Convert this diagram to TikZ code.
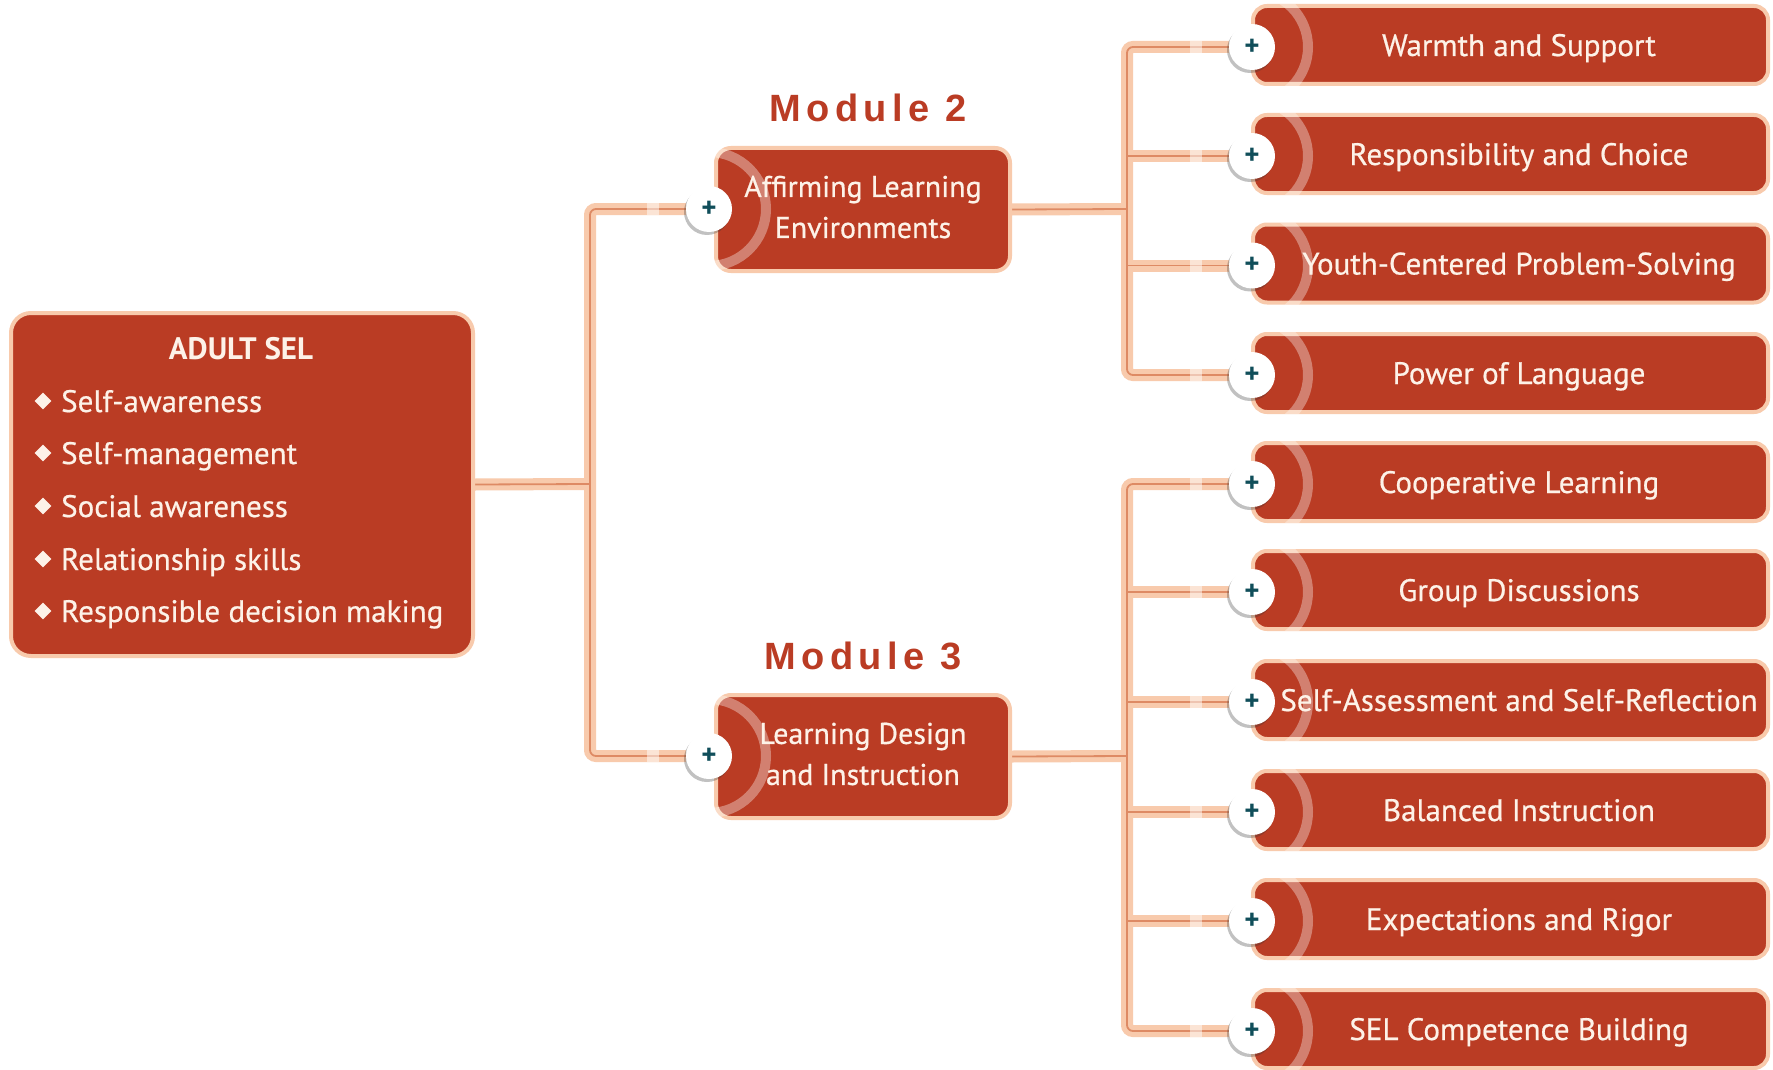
\documentclass[tikz,border=0pt]{standalone}
\usepackage{fontspec}
\setmainfont{PT Sans}
\newfontfamily\semib[FakeBold=0.6]{PT Sans}
\newfontfamily\modfont[LetterSpace=14]{Liberation Sans}
\usetikzlibrary{shapes.geometric,shadows,calc}
\definecolor{boxred}{RGB}{186,60,36}
\definecolor{peach}{RGB}{248,202,172}
\definecolor{peachdk}{RGB}{222,138,100}
\definecolor{cream}{RGB}{253,242,232}
\definecolor{teal}{RGB}{16,78,90}
\tikzset{
  boxbase/.style={draw=peach, line width=4, fill=boxred, inner sep=0},
  rbox/.style={boxbase, rounded corners=14, minimum width=515, minimum height=78},
  mbox/.style={boxbase, rounded corners=15, minimum width=294, minimum height=123},
  selbox/.style={boxbase, rounded corners=20, minimum width=462, minimum height=343},
  ring/.style={draw=white, draw opacity=0.35, line width=10},
  rtext/.style={text=cream, font=\semib\fontsize{31}{37}\selectfont, inner sep=0, anchor=base},
  mtext/.style={text=cream, font=\semib\fontsize{30}{41}\selectfont, align=center, inner sep=0},
  itemtext/.style={text=cream, font=\semib\fontsize{31}{37}\selectfont, anchor=base west, inner sep=0},
  bullet/.style={diamond, fill=cream, minimum size=17, inner sep=0},
  plusnode/.style={circle, fill=white, minimum size=46, inner sep=0, text=teal,
    font=\bfseries\fontsize{29}{29}\selectfont,
    drop shadow={shadow xshift=-2, shadow yshift=3, opacity=0.3, fill=black!80}},
  modlabel/.style={text=boxred, font=\modfont\bfseries\fontsize{38}{38}\selectfont, inner sep=0},
  band/.style={draw=peach, line width=12, rounded corners=6},
  core/.style={draw=peachdk, line width=1.8, rounded corners=6},
}
\newcommand\rightbox[3]{%
  \coordinate (c#1) at (1252,#2+2);
  \node[rbox] (r#1) at (1510.5,#2) {};
  \begin{scope}
    \clip[rounded corners=14] (r#1.south west) rectangle (r#1.north east);
    \draw[ring] (c#1) circle (56);
  \end{scope}
  \node[rtext] (t#1) at (1519,#2+11) {#3};
  \node[plusnode] (q#1) at (c#1) {+};
}
\newcommand\connpaths[1]{%
  \draw[#1] (sel.east) -- (ja);
  \draw[#1] (p2) -| (ja) |- (p3);
  \draw[#1] (m2.east) -- (jb);
  \draw[#1] (q1) -| (jb) |- (q4);
  \draw[#1] (q2) -- (jb |- q2);
  \draw[#1] (q3) -- (jb |- q3);
  \draw[#1] (m3.east) -- (jc);
  \draw[#1] (q5) -| (jc) |- (q10);
  \foreach \k in {6,7,8,9} {\draw[#1] (q\k) -- (jc |- q\k);}
}
\pgfdeclarelayer{back}
\pgfdeclarelayer{bg}
\pgfsetlayers{back,bg,main}
\begin{document}
\begin{tikzpicture}[x=1pt,y=-1pt]
\begin{pgfonlayer}{back}
\fill[white] (0,0) rectangle (1773,1070);
\end{pgfonlayer}
\useasboundingbox (0,0) rectangle (1773,1070);

% left box
\node[selbox] (sel) at (242,484.5) {};
\node[text=cream, font=\bfseries\fontsize{31}{37}\selectfont, inner sep=0] (seltitle) at (241,349) {ADULT SEL};
\foreach \t/\yy/\n in {Self-awareness/401/1, Self-management/453/2, Social awareness/506/3, Relationship skills/559/4, Responsible decision making/611/5} {
  \node[bullet] (b\n) at (43,\yy) {};
  \node[itemtext] (i\n) at (61,\yy+11) {\t};
}

% module boxes
\coordinate (cp2) at (709,209);
\node[mbox] (m2) at (863,209.5) {};
\begin{scope}
  \clip[rounded corners=15] (m2.south west) rectangle (m2.north east);
  \draw[ring] (cp2) circle (57);
\end{scope}
\node[mtext] (m2t) at (863,207) {Affirming Learning\\Environments};
\node[plusnode] (p2) at (cp2) {+};
\node[modlabel] (m2l) at (868,108) {Module 2};

\coordinate (cp3) at (709,756);
\node[mbox] (m3) at (863,756.5) {};
\begin{scope}
  \clip[rounded corners=15] (m3.south west) rectangle (m3.north east);
  \draw[ring] (cp3) circle (57);
\end{scope}
\node[mtext] (m3t) at (863,754) {Learning Design\\and Instruction};
\node[plusnode] (p3) at (cp3) {+};
\node[modlabel] (m3l) at (863,656) {Module 3};

% right boxes
\rightbox{1}{45}{Warmth and Support}
\rightbox{2}{154}{Responsibility and Choice}
\rightbox{3}{263.5}{Youth-Centered Problem-Solving}
\rightbox{4}{373}{Power of Language}
\rightbox{5}{482}{Cooperative Learning}
\rightbox{6}{590}{Group Discussions}
\rightbox{7}{700}{Self-Assessment and Self-Reflection}
\rightbox{8}{810}{Balanced Instruction}
\rightbox{9}{919}{Expectations and Rigor}
\rightbox{10}{1029}{SEL Competence Building}

% junctions
\coordinate (ja) at (590,484);
\coordinate (jb) at (1127,209);
\coordinate (jc) at (1127,756);

\begin{pgfonlayer}{bg}
  \connpaths{band}
  \connpaths{core}
  \foreach \k in {p2,p3,q1,q2,q3,q4,q5,q6,q7,q8,q9,q10} {
    \fill[white, opacity=0.5] ($(\k)+(-62,-6)$) rectangle ($(\k)+(-50,6)$);
  }
\end{pgfonlayer}
\end{tikzpicture}
\end{document}
